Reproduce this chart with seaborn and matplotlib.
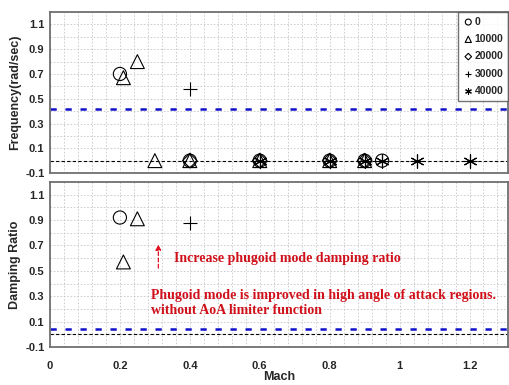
import numpy as np
import pandas as pd
import matplotlib
matplotlib.use("Agg")
import matplotlib.pyplot as plt
from matplotlib.ticker import MultipleLocator
import seaborn as sns

# ---------------- data ----------------
altitudes = ["0", "10000", "20000", "30000", "40000"]

freq_mach = {
    "0":     [0.20, 0.40, 0.60, 0.80, 0.90, 0.95],
    "10000": [0.21, 0.25, 0.30, 0.40, 0.60, 0.80, 0.90],
    "20000": [0.40, 0.60, 0.80, 0.90],
    "30000": [0.40, 0.60, 0.80, 0.90, 0.95, 1.05, 1.20],
    "40000": [0.60, 0.80, 0.90, 0.95, 1.05, 1.20],
}
freq_vals = {
    "0":     [0.70, 0.0, 0.0, 0.0, 0.0, 0.0],
    "10000": [0.67, 0.80, 0.0, 0.0, 0.0, 0.0, 0.0],
    "20000": [0.0, 0.0, 0.0, 0.0],
    "30000": [0.58, 0.0, 0.0, 0.0, 0.0, 0.0, 0.0],
    "40000": [0.0, 0.0, 0.0, 0.0, 0.0, 0.0],
}
damp_mach = {
    "0":     [0.20],
    "10000": [0.21, 0.25],
    "20000": [],
    "30000": [0.40],
    "40000": [],
}
damp_vals = {
    "0":     [0.92],
    "10000": [0.57, 0.91],
    "20000": [],
    "30000": [0.875],
    "40000": [],
}
freq_limit = 0.42
damp_limit = 0.04
zero_line = 0.0

y_ticks = [-0.1, 0.1, 0.3, 0.5, 0.7, 0.9, 1.1]
y_tick_labels = ["-0.1", "0.1", "0.3", "0.5", "0.7", "0.9", "1.1"]
x_ticks = [0, 0.2, 0.4, 0.6, 0.8, 1.0, 1.2]
x_tick_labels = ["0", "0.2", "0.4", "0.6", "0.8", "1", "1.2"]

annot_arrow_x = 0.31
annot_arrow_y = [0.50, 0.73]
annot1 = "Increase phugoid mode damping ratio"
annot2 = "Phugoid mode is improved in high angle of attack regions.\nwithout AoA limiter function"

# ---------------- style ----------------
sns.set_theme(style="white")
plt.rcParams["font.family"] = ["Liberation Sans", "DejaVu Sans"]
plt.rcParams["font.weight"] = "bold"

markers = {"0": "o", "10000": "^", "20000": "D", "30000": "+", "40000": (6, 2, 0)}
sizes = {"0": 90, "10000": 100, "20000": 55, "30000": 110, "40000": 90}

fig = plt.figure(figsize=(5.10, 3.85), dpi=100)
ax1 = fig.add_axes([0.098, 0.5506, 0.898, 0.418])
ax2 = fig.add_axes([0.098, 0.0987, 0.898, 0.4286])

def make_df(mach, vals):
    rows = []
    for a in altitudes:
        for m, v in zip(mach[a], vals[a]):
            rows.append({"Mach": m, "value": v, "alt": a})
    return pd.DataFrame(rows)

df_f = make_df(freq_mach, freq_vals)
df_d = make_df(damp_mach, damp_vals)

for ax, df, lim in [(ax1, df_f, freq_limit), (ax2, df_d, damp_limit)]:
    ax.axhline(lim, color="#1010c8", lw=1.8, ls=(0, (2.5, 3.5)), zorder=1)
    ax.axhline(zero_line, color="black", lw=0.8, ls=(0, (3, 2)), zorder=1)
    for a in altitudes:
        sub = df[df["alt"] == a]
        if len(sub) == 0:
            continue
        m = markers[a]
        if a in ("30000", "40000"):
            sns.scatterplot(data=sub, x="Mach", y="value", ax=ax, marker=m,
                            s=sizes[a], color="black", linewidth=0.8,
                            label=a, legend=False, zorder=3)
        else:
            sns.scatterplot(data=sub, x="Mach", y="value", ax=ax, marker=m,
                            s=sizes[a], facecolor="none", edgecolor="black",
                            color="black", linewidth=0.8, label=a,
                            legend=False, zorder=3)
    ax.set_xlim(0, 1.31)
    ax.set_ylim(-0.1, 1.2)
    ax.set_yticks(y_ticks)
    ax.set_yticklabels(y_tick_labels)
    ax.xaxis.set_minor_locator(MultipleLocator(0.04))
    ax.yaxis.set_minor_locator(MultipleLocator(0.1))
    ax.grid(True, which="both", color="#c8c8c8", lw=0.6, ls=(0, (2, 2)))
    ax.set_axisbelow(True)
    ax.tick_params(axis="y", which="both", length=0, labelsize=8, pad=4)
    ax.tick_params(axis="x", which="both", length=0, labelsize=8, pad=10)
    for lab in ax.get_yticklabels():
        lab.set_fontweight("bold")
    for sp in ax.spines.values():
        sp.set_color("#707070")
        sp.set_linewidth(1.3)

ax1.set_xticks(x_ticks)
ax1.set_xticklabels([])
ax1.set_xlabel("")
ax1.set_ylabel("Frequency(rad/sec)", fontsize=9, fontweight="bold", labelpad=3)

ax2.set_xticks(x_ticks)
ax2.set_xticklabels(x_tick_labels, fontweight="bold")
ax2.set_xlabel("Mach", fontsize=9, fontweight="bold", labelpad=0)
ax2.set_ylabel("Damping Ratio", fontsize=9, fontweight="bold", labelpad=3)

leg = ax1.legend(loc="upper right", fontsize=7.5, frameon=True, fancybox=False,
                 borderaxespad=0.0, handletextpad=0.1, handlelength=1.0,
                 markerscale=0.45, labelspacing=0.7, borderpad=0.45)
leg.get_frame().set_edgecolor("#505050")
leg.get_frame().set_linewidth(1.0)
for t in leg.get_texts():
    t.set_fontweight("bold")

ax2.annotate("", xy=(annot_arrow_x, annot_arrow_y[1]),
             xytext=(annot_arrow_x, annot_arrow_y[0]),
             arrowprops=dict(arrowstyle="-|>", color="#e01020", lw=0.9,
                             ls=(0, (3, 2)), mutation_scale=8))
ax2.text(0.355, 0.60, annot1, color="#d0101a", fontsize=10,
         family="Liberation Serif", fontweight="bold", va="center", ha="left")
ax2.text(0.29, 0.245, annot2, color="#d0101a", fontsize=10,
         family="Liberation Serif", fontweight="bold", va="center", ha="left",
         linespacing=1.22)

fig.savefig("out.png", dpi=100)
